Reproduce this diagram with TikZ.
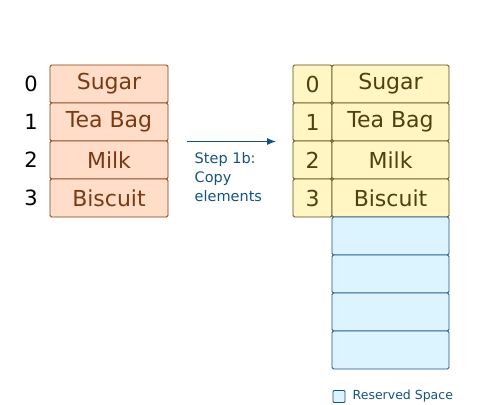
\documentclass[tikz,border=0pt]{standalone}
\usepackage{fontspec}
\setmainfont{DejaVu Sans}
\usetikzlibrary{arrows.meta}
\definecolor{peachfill}{RGB}{255,221,200}
\definecolor{peachline}{RGB}{128,60,20}
\definecolor{peachtext}{RGB}{122,58,18}
\definecolor{yelfill}{RGB}{255,246,196}
\definecolor{yelline}{RGB}{92,74,20}
\definecolor{yeltext}{RGB}{80,64,12}
\definecolor{bluefill}{RGB}{220,244,255}
\definecolor{blueline}{RGB}{22,82,128}
\definecolor{bluetext}{RGB}{22,82,128}
\tikzset{
  cell/.style={draw, rounded corners=1.5pt, line width=0.9pt, minimum height=38pt, inner sep=0pt, font=\fontsize{22}{24}\selectfont},
  srccell/.style={cell, fill=peachfill, draw=peachline, text=peachtext, minimum width=118pt},
  idxcell/.style={cell, fill=yelfill, draw=yelline, text=yeltext, minimum width=39pt},
  dstcell/.style={cell, fill=yelfill, draw=yelline, text=yeltext, minimum width=117pt},
  rescell/.style={cell, fill=bluefill, draw=blueline, minimum width=117pt},
  idxlabel/.style={font=\fontsize{21}{24}\selectfont, text=black, inner sep=0pt},
  steplabel/.style={font=\fontsize{14.5}{19}\selectfont, text=bluetext, align=left, inner sep=0pt},
  legendtext/.style={font=\fontsize{12.5}{14}\selectfont, text=bluetext, inner sep=0pt},
  flow/.style={draw=blueline, line width=1pt, -{Latex[length=9pt,width=7pt]}}
}
\begin{document}
\begin{tikzpicture}[x=1pt,y=-1pt]
\useasboundingbox (0,0) rectangle (500,404);
% source array
\node[srccell] (s0) at (109,84) {Sugar};
\node[srccell] (s1) at (109,122) {Tea Bag};
\node[srccell] (s2) at (109,160) {Milk};
\node[srccell] (s3) at (109,198) {Biscuit};
\node[idxlabel] (l0) at (31,84) {0};
\node[idxlabel] (l1) at (31,122) {1};
\node[idxlabel] (l2) at (31,160) {2};
\node[idxlabel] (l3) at (31,198) {3};
% arrow
\coordinate (a0) at (187,141.5);
\coordinate (a1) at (276,141.5);
\draw[flow] (a0) -- (a1);
\node[steplabel, anchor=north west] (step) at (194.5,152.5) {Step 1b:\\Copy\\elements};
% destination array
\node[idxcell] (i0) at (312.5,84) {0};
\node[idxcell] (i1) at (312.5,122) {1};
\node[idxcell] (i2) at (312.5,160) {2};
\node[idxcell] (i3) at (312.5,198) {3};
\node[dstcell] (d0) at (390.5,84) {Sugar};
\node[dstcell] (d1) at (390.5,122) {Tea Bag};
\node[dstcell] (d2) at (390.5,160) {Milk};
\node[dstcell] (d3) at (390.5,198) {Biscuit};
\node[rescell] (r0) at (390.5,236) {};
\node[rescell] (r1) at (390.5,274) {};
\node[rescell] (r2) at (390.5,312) {};
\node[rescell] (r3) at (390.5,350) {};
% legend
\node[draw=blueline, fill=bluefill, line width=0.9pt, rounded corners=1pt, minimum size=12pt, inner sep=0pt] (key) at (339,396.5) {};
\node[legendtext, anchor=west] (keytext) at (352.5,396.5) {Reserved Space};
\end{tikzpicture}
\end{document}
